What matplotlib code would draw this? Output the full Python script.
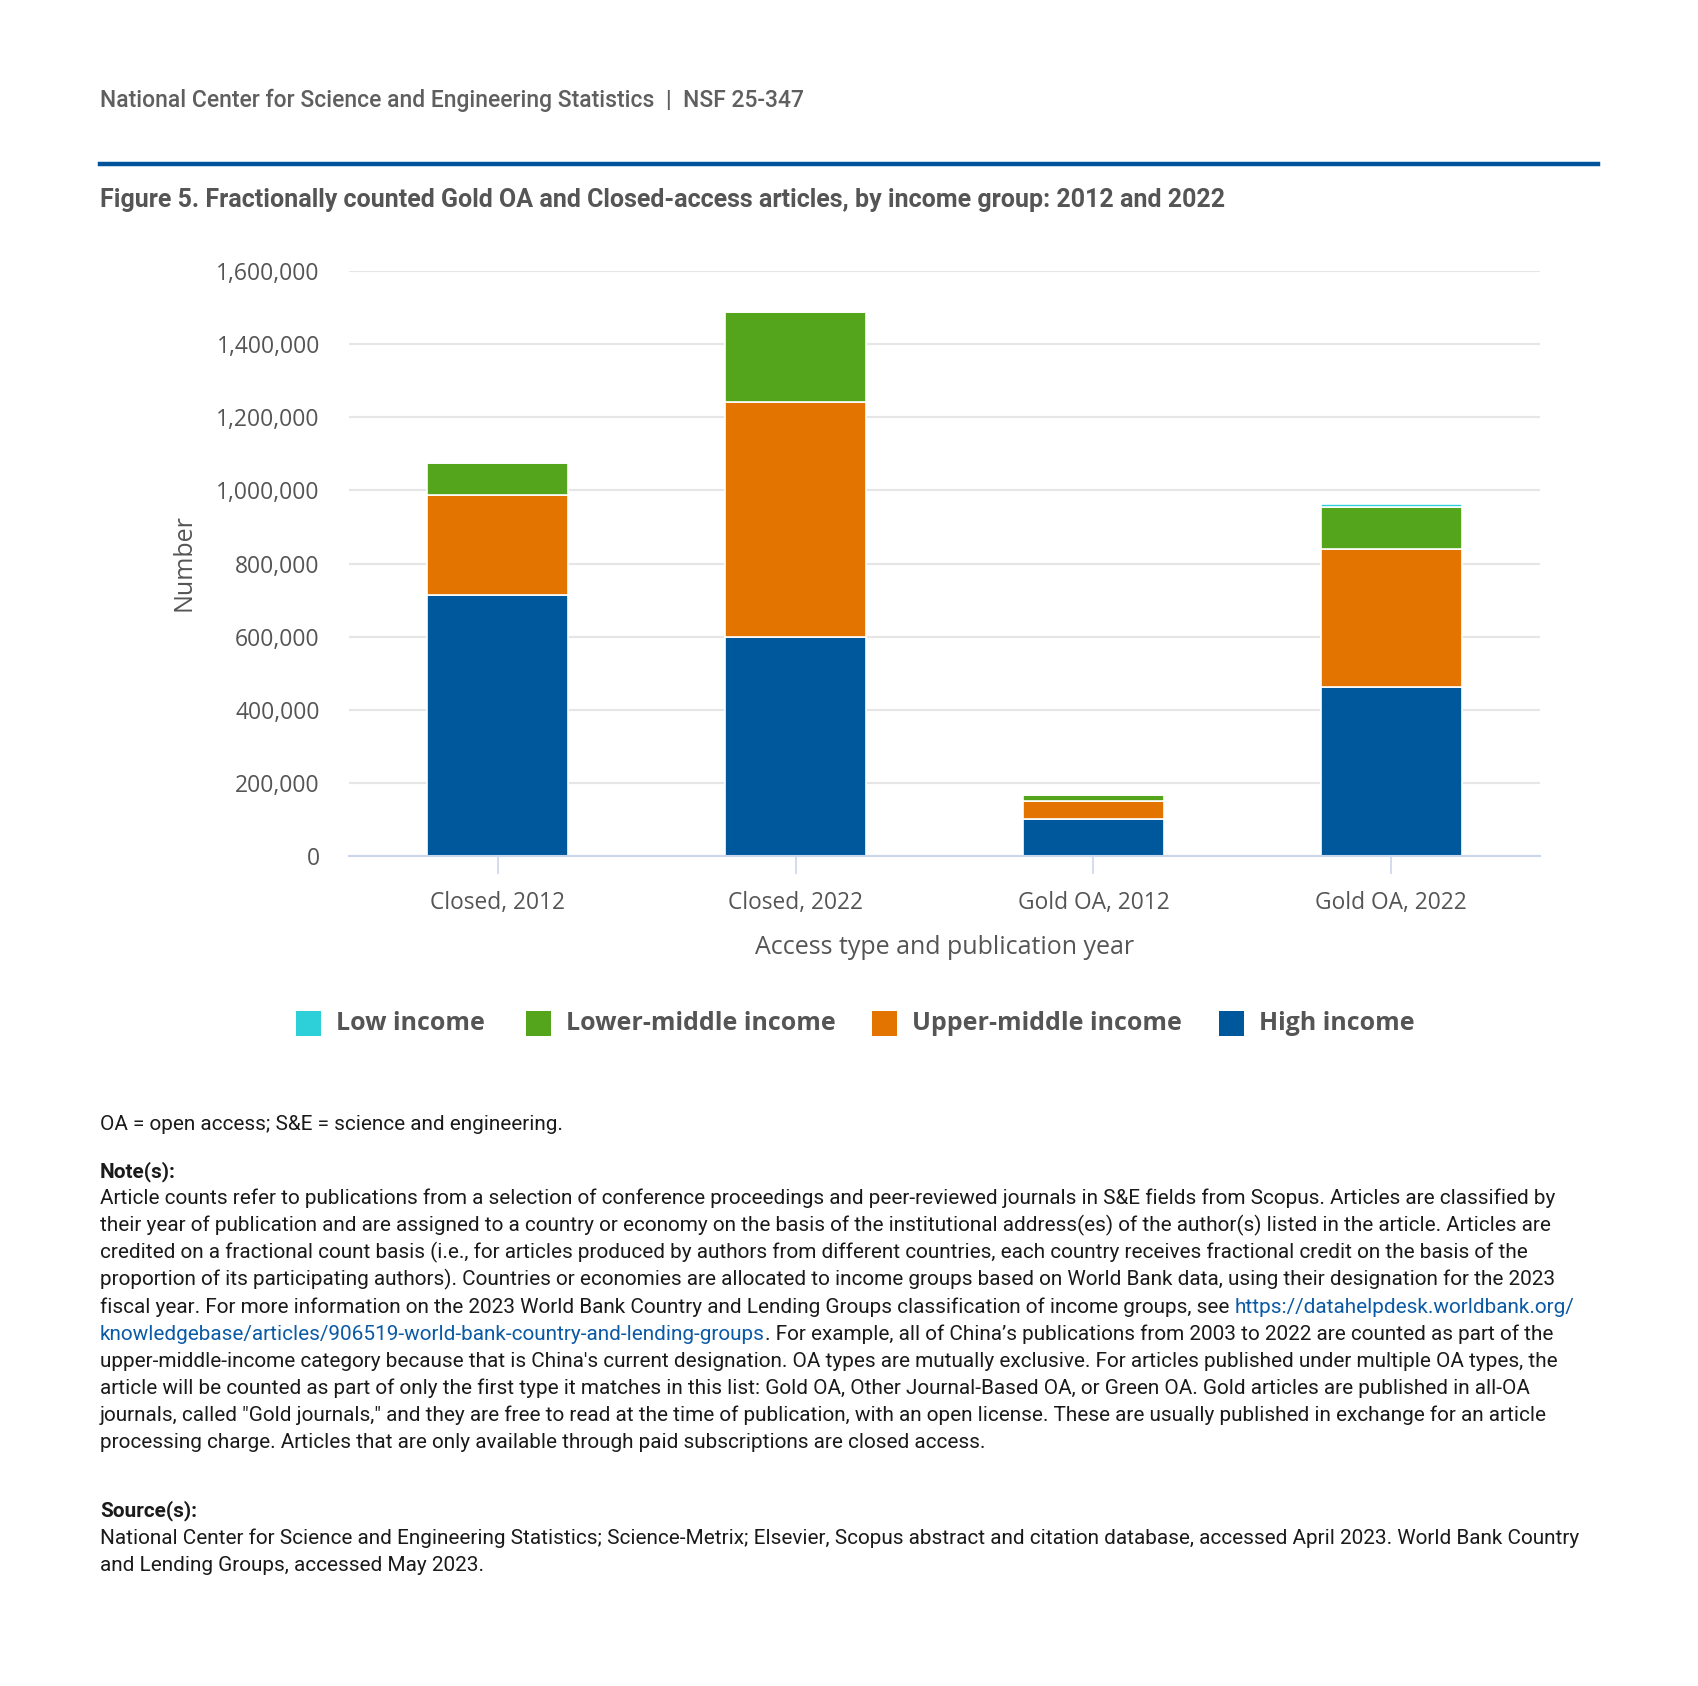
import matplotlib
matplotlib.use("Agg")
import matplotlib.pyplot as plt
from matplotlib.patches import Rectangle
import numpy as np

# ---------------- data ----------------
categories = ["Closed, 2012", "Closed, 2022", "Gold OA, 2012", "Gold OA, 2022"]
high_income = [714000, 598000, 101000, 461000]
upper_middle_income = [274000, 643000, 50000, 378000]
lower_middle_income = [88000, 246000, 16000, 115000]
low_income = [2000, 3500, 1000, 10000]
y_ticks = [0, 200000, 400000, 600000, 800000, 1000000, 1200000, 1400000, 1600000]

series_names = ["High income", "Upper-middle income", "Lower-middle income", "Low income"]
series_colors = ["#00589c", "#e37400", "#55a51c", "#2dcfd9"]

header = "National Center for Science and Engineering Statistics  |  NSF 25-347"
title = "Figure 5. Fractionally counted Gold OA and Closed-access articles, by income group: 2012 and 2022"
abbrev = "OA = open access; S&E = science and engineering."
note_lines = [
    "Article counts refer to publications from a selection of conference proceedings and peer-reviewed journals in S&E fields from Scopus. Articles are classified by",
    "their year of publication and are assigned to a country or economy on the basis of the institutional address(es) of the author(s) listed in the article. Articles are",
    "credited on a fractional count basis (i.e., for articles produced by authors from different countries, each country receives fractional credit on the basis of the",
    "proportion of its participating authors). Countries or economies are allocated to income groups based on World Bank data, using their designation for the 2023",
    ("fiscal year. For more information on the 2023 World Bank Country and Lending Groups classification of income groups, see ", "https://datahelpdesk.worldbank.org/", ""),
    ("", "knowledgebase/articles/906519-world-bank-country-and-lending-groups", ". For example, all of China\u2019s publications from 2003 to 2022 are counted as part of the"),
    "upper-middle-income category because that is China's current designation. OA types are mutually exclusive. For articles published under multiple OA types, the",
    "article will be counted as part of only the first type it matches in this list: Gold OA, Other Journal-Based OA, or Green OA. Gold articles are published in all-OA",
    "journals, called \"Gold journals,\" and they are free to read at the time of publication, with an open license. These are usually published in exchange for an article",
    "processing charge. Articles that are only available through paid subscriptions are closed access.",
]
source_lines = [
    "National Center for Science and Engineering Statistics; Science-Metrix; Elsevier, Scopus abstract and citation database, accessed April 2023. World Bank Country",
    "and Lending Groups, accessed May 2023.",
]

# ---------------- figure ----------------
W, H = 1699, 1686
DPI = 100
fig = plt.figure(figsize=(W / DPI, H / DPI), dpi=DPI)
fig.patch.set_facecolor("white")

def fx(x):
    return x / W

def fy(y):
    return 1 - y / H

TXT = "#1a1a1a"
LINK = "#0b5aa5"
AXC = "#555555"
LM = 100

# header
fig.text(fx(LM), fy(100), header, fontsize=16.5, family="Roboto", weight="medium",
         color="#5f5f5f", va="center", ha="left")
# blue rule
fig.add_artist(plt.Line2D([fx(LM), fx(1598)], [fy(164), fy(164)], color="#00529b", lw=3.2,
                          transform=fig.transFigure))
# title
fig.text(fx(LM), fy(200.5), title, fontsize=18, family="Roboto", weight="bold",
         color="#555555", va="center", ha="left")

# ---------------- axes ----------------
ax_left, ax_right, ax_top, ax_bottom = 349, 1540, 271, 856
ax = fig.add_axes([fx(ax_left), fy(ax_bottom), (ax_right - ax_left) / W, (ax_bottom - ax_top) / H])

x = np.arange(len(categories))
bottom = np.zeros(len(categories))
for vals, name, col in zip([high_income, upper_middle_income, lower_middle_income, low_income],
                           series_names, series_colors):
    ax.bar(x, vals, width=0.473, bottom=bottom, color=col, edgecolor="white", linewidth=1.2,
           label=name, zorder=3)
    bottom += np.array(vals)

ax.set_xlim(-0.5, 3.5)
ax.set_ylim(0, 1600000)
ax.set_yticks(y_ticks)
ax.set_yticklabels([f"{v:,}" for v in y_ticks])
ax.set_xticks(x)
ax.set_xticklabels(categories)
ax.grid(axis="y", color="#e6e6e6", linewidth=1.5, zorder=0)
ax.set_axisbelow(True)
for s in ["top", "right", "left"]:
    ax.spines[s].set_visible(False)
ax.spines["bottom"].set_color("#ccd6eb")
ax.spines["bottom"].set_linewidth(1.5)
ax.spines["bottom"].set_zorder(4)
ax.tick_params(axis="y", length=0, pad=21, labelsize=16.5, labelcolor=AXC)
ax.tick_params(axis="x", length=13, width=1.2, color="#ccd6eb", pad=12, labelsize=16.4,
               labelcolor=AXC)
for lab in ax.get_xticklabels() + ax.get_yticklabels():
    lab.set_family("Open Sans")

fig.text(fx((ax_left + ax_right) / 2), fy(947), "Access type and publication year", fontsize=18,
         family="Open Sans", color=AXC, ha="center", va="center")
fig.text(fx(184), fy(563), "Number", fontsize=18, family="Open Sans", color=AXC,
         ha="center", va="center", rotation=90)

# ---------------- legend (manual, Highcharts style) ----------------
leg_square_x = [295.7, 526.3, 871.8, 1219.4]
leg_y = 1023
for name, col, sx in zip(series_names[::-1], series_colors[::-1], leg_square_x):
    fig.add_artist(Rectangle((fx(sx), fy(leg_y + 12.5)), 25 / W, 25 / H, facecolor=col,
                             edgecolor="none", transform=fig.transFigure))
    fig.text(fx(sx + 40), fy(leg_y), name, fontsize=18, family="Open Sans", weight="bold",
             color=AXC, ha="left", va="center")

# ---------------- notes ----------------
NFS = 14.96
fig.text(fx(LM), fy(1124.5), abbrev, fontsize=NFS, family="Roboto", color=TXT, va="center")
fig.text(fx(LM), fy(1172), "Note(s):", fontsize=NFS, family="Roboto", weight="bold", color=TXT,
         va="center")
y0 = 1198.5
dy = 27.15
for i, line in enumerate(note_lines):
    yy = fy(y0 + i * dy)
    if isinstance(line, tuple):
        pre, link, post = line
        t1 = fig.text(fx(LM), yy, pre if pre else "", fontsize=NFS, family="Roboto",
                      color=TXT, va="center")
        t2 = fig.text(0, 0, link, fontsize=NFS, family="Roboto", color=LINK, va="center")
        if pre:
            fig.canvas.draw()
            r = fig.canvas.get_renderer()
            bb = t1.get_window_extent(r)
            t2.set_position((bb.x1 / fig.bbox.width, yy))
        else:
            t2.set_position((fx(LM), yy))
        if post:
            fig.canvas.draw()
            r = fig.canvas.get_renderer()
            bb2 = t2.get_window_extent(r)
            fig.text(bb2.x1 / fig.bbox.width, yy, post, fontsize=NFS, family="Roboto",
                     color=TXT, va="center")
    else:
        fig.text(fx(LM), yy, line, fontsize=NFS, family="Roboto", color=TXT, va="center")

fig.text(fx(LM), fy(1511), "Source(s):", fontsize=NFS, family="Roboto", weight="bold", color=TXT,
         va="center")
for i, line in enumerate(source_lines):
    fig.text(fx(LM), fy(1538 + i * dy), line, fontsize=NFS, family="Roboto", color=TXT,
             va="center")

fig.savefig("out.png", dpi=DPI, facecolor="white")
